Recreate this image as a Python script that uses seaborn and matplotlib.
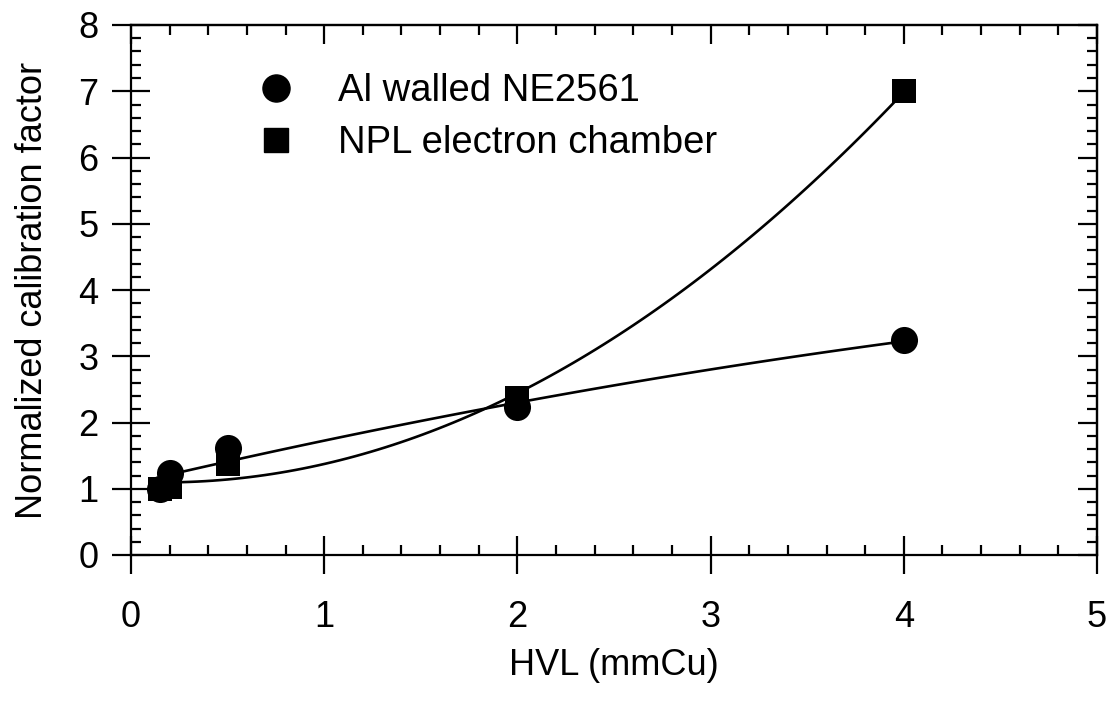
import matplotlib
matplotlib.use("Agg")
import matplotlib.pyplot as plt
import seaborn as sns
import numpy as np
import pandas as pd
from matplotlib.ticker import MultipleLocator
from matplotlib.lines import Line2D

# Data
hvl_al = [0.15, 0.2, 0.5, 2.0, 4.0]
cf_al = [1.0, 1.24, 1.62, 2.23, 3.24]
hvl_npl = [0.15, 0.2, 0.5, 2.0, 4.0]
cf_npl = [1.0, 1.02, 1.37, 2.37, 7.0]
label_al = "Al walled NE2561"
label_npl = "NPL electron chamber"

sns.set_style("ticks")
plt.rcParams['font.family'] = ['Liberation Sans', 'DejaVu Sans']
plt.rcParams['text.color'] = 'black'
plt.rcParams['axes.labelcolor'] = 'black'
plt.rcParams['xtick.color'] = 'black'
plt.rcParams['ytick.color'] = 'black'

fig = plt.figure(figsize=(11.12, 7.02), dpi=100)
ax = fig.add_axes([131/1112, 1-555/702, (1097-131)/1112, (555-25)/702])

df_al = pd.DataFrame({"x": hvl_al, "y": cf_al})
df_npl = pd.DataFrame({"x": hvl_npl, "y": cf_npl})

sns.regplot(data=df_al, x="x", y="y", order=2, ci=None, scatter=False,
            truncate=True, ax=ax, line_kws=dict(color="black", lw=1.9))
sns.regplot(data=df_npl, x="x", y="y", order=2, ci=None, scatter=False,
            truncate=True, ax=ax, line_kws=dict(color="black", lw=1.9))

sns.scatterplot(data=df_al, x="x", y="y", marker="o", s=380, color="black",
                edgecolor="black", linewidth=0, ax=ax, zorder=5)
sns.scatterplot(data=df_npl, x="x", y="y", marker="s", s=300, color="black",
                edgecolor="black", linewidth=0, ax=ax, zorder=5)

ax.set_xlim(0, 5)
ax.set_ylim(0, 8)
ax.xaxis.set_major_locator(MultipleLocator(1))
ax.xaxis.set_minor_locator(MultipleLocator(0.2))
ax.yaxis.set_major_locator(MultipleLocator(1))
ax.yaxis.set_minor_locator(MultipleLocator(0.2))

for sp in ax.spines.values():
    sp.set_visible(True)
    sp.set_linewidth(1.6)
    sp.set_color("black")

ax.tick_params(which="major", direction="inout", length=27, width=1.6,
               labelsize=26, color="black", labelcolor="black", pad=10)
ax.tick_params(which="minor", direction="in", length=7.5, width=1.6,
               color="black")
ax.tick_params(axis="x", which="major", pad=19)

# top and right tick marks (inward only)
secx = ax.secondary_xaxis("top")
secx.xaxis.set_major_locator(MultipleLocator(1))
secx.xaxis.set_minor_locator(MultipleLocator(0.2))
secx.tick_params(which="major", direction="in", length=13.5, width=1.6, labeltop=False)
secx.tick_params(which="minor", direction="in", length=7.5, width=1.6)
secx.spines["top"].set_linewidth(1.6)
secy = ax.secondary_yaxis("right")
secy.yaxis.set_major_locator(MultipleLocator(1))
secy.yaxis.set_minor_locator(MultipleLocator(0.2))
secy.tick_params(which="major", direction="in", length=13.5, width=1.6, labelright=False)
secy.tick_params(which="minor", direction="in", length=7.5, width=1.6)
secy.spines["right"].set_linewidth(1.6)

ax.set_xlabel("HVL (mmCu)", fontsize=26, labelpad=9, color="black")
ax.set_ylabel("Normalized calibration factor", fontsize=26, labelpad=20, color="black")

handles = [
    Line2D([], [], marker="o", color="black", linestyle="none", markersize=19.5),
    Line2D([], [], marker="s", color="black", linestyle="none", markersize=17),
]
leg = ax.legend(handles, [label_al, label_npl], loc="upper left",
                bbox_to_anchor=(0.111, 0.945), frameon=False, fontsize=27.5,
                handletextpad=1.1, labelspacing=0.42, borderpad=0, handlelength=1.0)
for t in leg.get_texts():
    t.set_color("black")

fig.savefig("out.png", dpi=100)
